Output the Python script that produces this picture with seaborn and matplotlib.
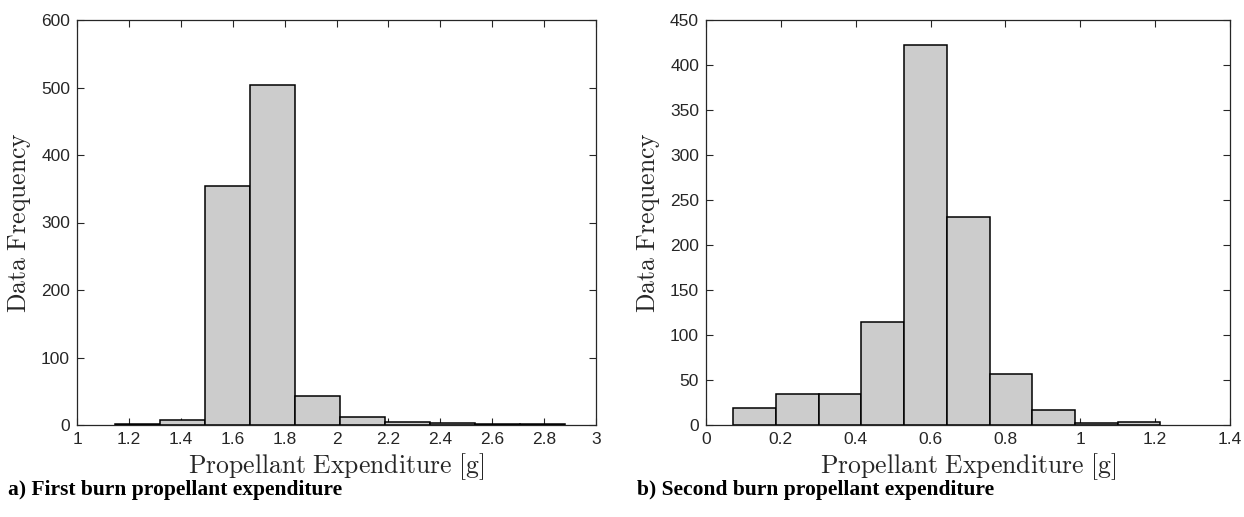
import numpy as np
import pandas as pd
import seaborn as sns
import matplotlib
matplotlib.use("Agg")
import matplotlib.pyplot as plt

# ---- data ----
first_edges = [1.145, 1.3185, 1.492, 1.6655, 1.839, 2.0125, 2.186, 2.3595, 2.533, 2.7065, 2.88]
first_counts = [2, 7, 354, 503, 43, 12, 4, 3, 1, 2]
second_edges = [0.073, 0.1871, 0.3012, 0.4153, 0.5294, 0.6435, 0.7576, 0.8717, 0.9858, 1.0999, 1.214]
second_counts = [19, 34, 34, 114, 422, 231, 57, 17, 2, 3]

first_xticks = [1, 1.2, 1.4, 1.6, 1.8, 2, 2.2, 2.4, 2.6, 2.8, 3]
second_xticks = [0, 0.2, 0.4, 0.6, 0.8, 1, 1.2, 1.4]
first_yticks = [0, 100, 200, 300, 400, 500, 600]
second_yticks = [0, 50, 100, 150, 200, 250, 300, 350, 400, 450]

xlabel = r"$\mathrm{Propellant\ Expenditure\ [g]}$"
ylabel = r"$\mathrm{Data\ Frequency}$"
captions = ["a) First burn propellant expenditure", "b) Second burn propellant expenditure"]

sns.set_theme(style="white")
plt.rcParams["font.family"] = ["Liberation Sans", "DejaVu Sans"]
plt.rcParams["mathtext.fontset"] = "cm"

fig = plt.figure(figsize=(12.44, 5.17), dpi=100)
W, H = 1244, 517
axL = fig.add_axes([77 / W, 1 - 425 / H, (596 - 77) / W, (425 - 20) / H])
axR = fig.add_axes([706 / W, 1 - 425 / H, (1230 - 706) / W, (425 - 20) / H])


def fmt(v):
    return f"{v:g}"


for ax, edges, counts, xt, yt in [
    (axL, first_edges, first_counts, first_xticks, first_yticks),
    (axR, second_edges, second_counts, second_xticks, second_yticks),
]:
    centers = [(edges[i] + edges[i + 1]) / 2 for i in range(len(counts))]
    df = pd.DataFrame({"x": centers, "w": counts})
    sns.histplot(data=df, x="x", weights="w", bins=edges, ax=ax,
                 color="#cccccc", alpha=1.0, edgecolor="black", linewidth=1.1)
    ax.set_xlim(xt[0], xt[-1])
    ax.set_ylim(yt[0], yt[-1])
    ax.set_xticks(xt)
    ax.set_xticklabels([fmt(v) for v in xt])
    ax.set_yticks(yt)
    ax.set_yticklabels([fmt(v) for v in yt])
    ax.tick_params(direction="in", length=5, width=0.8, top=True, right=True,
                   bottom=True, left=True, labelsize=12.5, colors="#262626", pad=5)
    for sp in ax.spines.values():
        sp.set_visible(True)
        sp.set_color("#262626")
        sp.set_linewidth(0.9)
    ax.set_xlabel(xlabel, fontsize=18.5, color="#262626", labelpad=3)
    ax.set_ylabel(ylabel, fontsize=18.5, color="#262626", labelpad=6)

fig.text(8 / W, 1 - 490 / H, captions[0], fontsize=15.5, fontweight="bold",
         family=["Liberation Serif"], va="center", ha="left", color="black")
fig.text(637 / W, 1 - 490 / H, captions[1], fontsize=15.5, fontweight="bold",
         family=["Liberation Serif"], va="center", ha="left", color="black")

fig.savefig("out.png", dpi=100)
